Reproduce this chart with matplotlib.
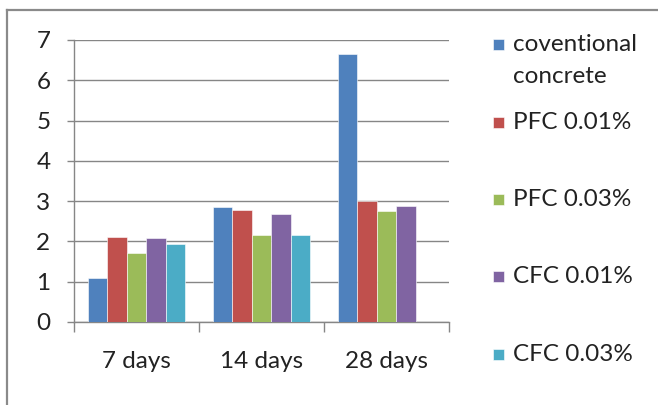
import matplotlib
matplotlib.use("Agg")
import matplotlib.pyplot as plt
from matplotlib.lines import Line2D
from matplotlib.patches import Rectangle
import numpy as np

plt.rcParams['font.family'] = ['Lato', 'DejaVu Sans']

categories = ["7 days", "14 days", "28 days"]
series_names = ["coventional\nconcrete", "PFC 0.01%", "PFC 0.03%", "CFC 0.01%", "CFC 0.03%"]
conventional = [1.1, 2.85, 6.65]
pfc_001 = [2.11, 2.79, 3.0]
pfc_003 = [1.71, 2.16, 2.75]
cfc_001 = [2.08, 2.68, 2.88]
cfc_003 = [1.93, 2.16, 0.0]
series_values = [conventional, pfc_001, pfc_003, cfc_001, cfc_003]
colors = ["#4F81BD", "#C0504D", "#9BBB59", "#8064A2", "#4BACC6"]
y_ticks = [0, 1, 2, 3, 4, 5, 6, 7]

grid_color = "#868686"
text_color = "#222222"
fs = 17.5

fig = plt.figure(figsize=(6.58, 4.05), dpi=100)
ax = fig.add_axes([74 / 658, 83 / 405, 375 / 658, 282 / 405])

x = np.arange(len(categories))
bar_w = 0.155
n = len(series_values)
for i, (vals, c) in enumerate(zip(series_values, colors)):
    offs = (i - (n - 1) / 2) * bar_w
    ax.bar(x + offs, vals, width=bar_w, color=c, edgecolor="white",
           linewidth=0.4, zorder=3)

ax.set_xlim(-0.5, len(categories) - 0.5)
ax.set_ylim(0, 7)
ax.set_yticks(y_ticks)
ax.set_yticklabels([str(t) for t in y_ticks])
ax.yaxis.grid(True, color=grid_color, linewidth=1.0, zorder=0)
ax.set_axisbelow(True)

ax.set_xticks(x)
ax.set_xticklabels(categories)
ax.set_xticks(np.arange(-0.5, len(categories)), minor=True)
ax.tick_params(axis='x', which='major', length=0, pad=21, labelsize=fs,
               labelcolor=text_color)
ax.tick_params(axis='x', which='minor', length=7, width=1.0, color=grid_color,
               direction='out')
ax.tick_params(axis='y', length=5, width=1.0, color=grid_color, pad=12,
               labelsize=fs, labelcolor=text_color)

for side in ("top", "right"):
    ax.spines[side].set_visible(False)
for side in ("left", "bottom"):
    ax.spines[side].set_color(grid_color)
    ax.spines[side].set_linewidth(1.0)

# chart area frame (top and left edges)
fig.add_artist(Line2D([7 / 658, 1.0], [1 - 10 / 405, 1 - 10 / 405],
                      transform=fig.transFigure, color="#8a8a8a", linewidth=1.6))
fig.add_artist(Line2D([7 / 658, 7 / 658], [0.0, 1 - 10 / 405],
                      transform=fig.transFigure, color="#8a8a8a", linewidth=1.6))

# legend entries
legend_y = [44, 122, 199, 276, 354]
for name, c, yy in zip(series_names, colors, legend_y):
    fy = 1 - yy / 405
    fig.add_artist(Rectangle((493 / 658, fy - 5.5 / 405), 11 / 658, 11 / 405,
                             transform=fig.transFigure, facecolor=c,
                             edgecolor="white", linewidth=0.4))
    fig.text(513 / 658, fy + 10 / 405, name, ha='left', va='top', fontsize=fs,
             color=text_color, linespacing=1.62)

fig.savefig("out.png", dpi=100)
